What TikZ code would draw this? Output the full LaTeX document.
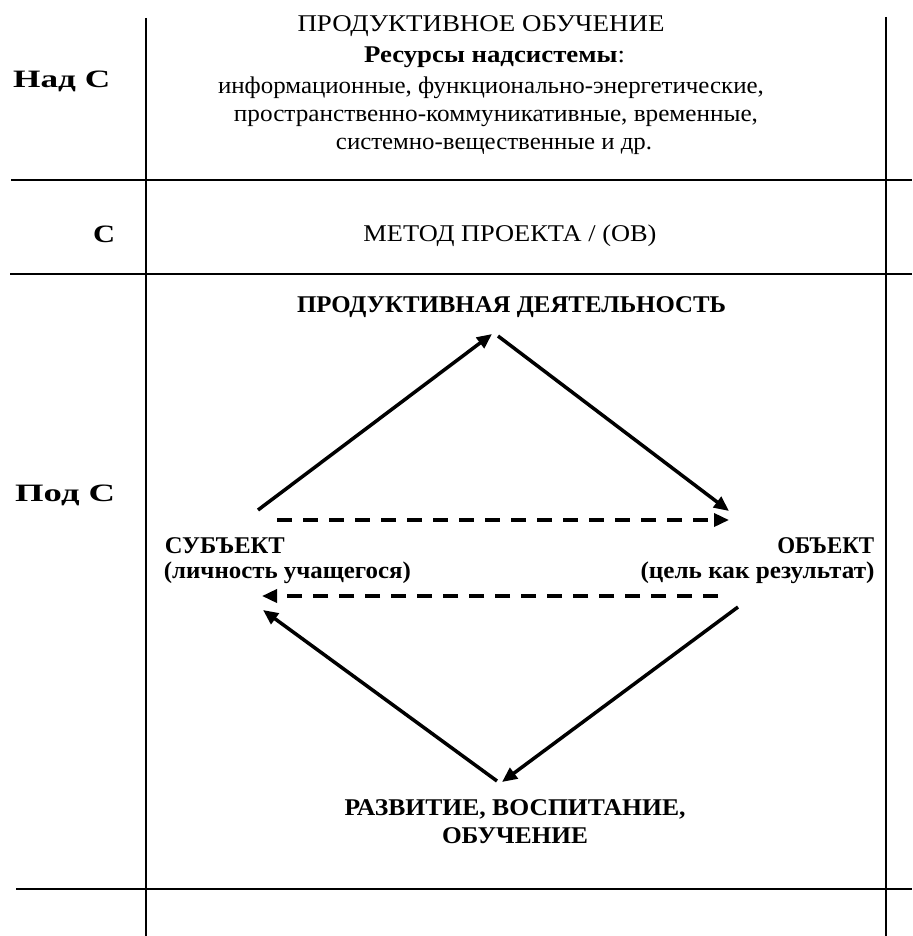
\documentclass[tikz,border=0pt]{standalone}
\usepackage{fontspec}
\setmainfont{Liberation Serif}
\usepackage{graphicx}
\usetikzlibrary{arrows.meta}
\newcommand{\fitw}[2]{\resizebox{#1}{\height}{#2}}
\begin{document}
\begin{tikzpicture}[x=1pt,y=-1pt,
  frame/.style={line width=2pt},
  arr/.style={line width=3.5pt,-{Triangle[length=15pt,width=13pt]}},
  darr/.style={arr,dash pattern=on 15pt off 11pt},
  txt/.style={inner sep=0pt,font=\fontsize{24}{28}\selectfont},
  btxt/.style={inner sep=0pt,font=\bfseries\fontsize{24}{28}\selectfont},
  side/.style={inner sep=0pt,font=\bfseries\fontsize{25}{30}\selectfont}]
\useasboundingbox (0,0) rectangle (912,936);
% frame
\draw[frame] (146,18) -- (146,936);
\draw[frame] (886,17) -- (886,936);
\draw[frame] (11,180) -- (912,180);
\draw[frame] (10,274) -- (912,274);
\draw[frame] (16,889) -- (912,889);
% side labels
\node[side,anchor=base west] (lnad) at (13,88) {\fitw{97pt}{Над С}};
\node[side,anchor=base west] (lc) at (93,242) {\fitw{22pt}{С}};
\node[side,anchor=base west] (lpod) at (15,501) {\fitw{100pt}{Под С}};
% top cell
\node[txt,anchor=base] (hdr) at (481,32) {\fitw{367pt}{ПРОДУКТИВНОЕ ОБУЧЕНИЕ}};
\node[txt,anchor=base] (res) at (494.5,63) {\fitw{261pt}{\textbf{Ресурсы надсистемы}:}};
\node[txt,anchor=base] (r1) at (491,94) {\fitw{546pt}{информационные, функционально-энергетические,}};
\node[txt,anchor=base] (r2) at (496,122) {\fitw{524pt}{пространственно-коммуникативные, временные,}};
\node[txt,anchor=base] (r3) at (494,150) {\fitw{316pt}{системно-вещественные и др.}};
% middle cell
\node[txt,anchor=base] (met) at (510,241) {\fitw{293pt}{МЕТОД ПРОЕКТА / (ОВ)}};
% bottom cell
\node[btxt,anchor=base] (pd) at (511.5,312) {\fitw{429pt}{ПРОДУКТИВНАЯ ДЕЯТЕЛЬНОСТЬ}};
\node[btxt,anchor=base west] (subj) at (164.6,553) {\fitw{120pt}{СУБЪЕКТ}};
\node[btxt,anchor=base west] (subj2) at (163.7,578) {\fitw{247pt}{(личность учащегося)}};
\node[btxt,anchor=base east] (obj) at (874.5,553) {\fitw{97pt}{ОБЪЕКТ}};
\node[btxt,anchor=base east] (obj2) at (874.7,578) {\fitw{234pt}{(цель как результат)}};
\node[btxt,anchor=base] (rv1) at (515,815) {\fitw{341pt}{РАЗВИТИЕ, ВОСПИТАНИЕ,}};
\node[btxt,anchor=base] (rv2) at (515,843) {\fitw{146pt}{ОБУЧЕНИЕ}};
% arrow end points
\coordinate (a1s) at (258,510);
\coordinate (a1e) at (492,334);
\coordinate (a2s) at (498,336);
\coordinate (a2e) at (729,511);
\coordinate (d1s) at (277,520);
\coordinate (d1e) at (729,520);
\coordinate (d2s) at (718,596);
\coordinate (d2e) at (262,596);
\coordinate (a3s) at (497,781);
\coordinate (a3e) at (263,610);
\coordinate (a4s) at (738,607);
\coordinate (a4e) at (502,782);
% arrows
\draw[arr] (a1s) -- (a1e);
\draw[arr] (a2s) -- (a2e);
\draw[darr] (d1s) -- (d1e);
\draw[darr] (d2s) -- (d2e);
\draw[arr] (a3s) -- (a3e);
\draw[arr] (a4s) -- (a4e);
\end{tikzpicture}
\end{document}
